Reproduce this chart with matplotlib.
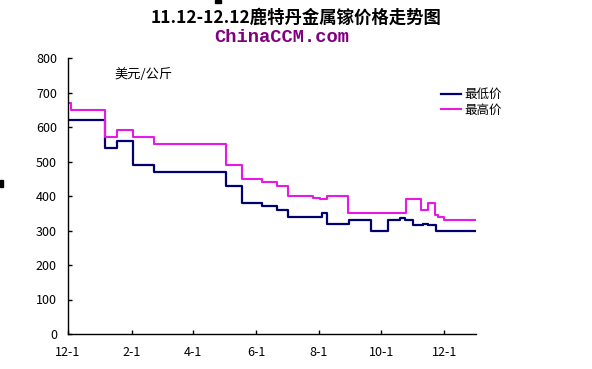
import pandas as pd
import matplotlib.pyplot as plt
from matplotlib.patches import Rectangle

plt.rcParams['font.family'] = ['Noto Sans CJK SC', 'DejaVu Sans']

TITLE = "11.12-12.12鹿特丹金属镓价格走势图"
SUBTITLE = "ChinaCCM.com"
UNIT = "美元/公斤"

# step change dates and prices (USD/kg)
low_dates = ["2011-12-01", "2012-01-06", "2012-01-18", "2012-02-02", "2012-02-23",
             "2012-05-03", "2012-05-18", "2012-06-07", "2012-06-21", "2012-07-02",
             "2012-08-04", "2012-08-09", "2012-08-30", "2012-09-21", "2012-10-07",
             "2012-10-19", "2012-10-24", "2012-11-01", "2012-11-10", "2012-11-15",
             "2012-11-23", "2013-01-01"]
low_vals = [620, 540, 560, 490, 470,
            430, 380, 370, 360, 340,
            350, 320, 330, 300, 330,
            335, 330, 315, 320, 315,
            300, 300]

high_dates = ["2011-12-01", "2011-12-04", "2012-01-06", "2012-01-18", "2012-02-02",
              "2012-02-23", "2012-05-03", "2012-05-18", "2012-06-07", "2012-06-21",
              "2012-07-02", "2012-07-26", "2012-08-02", "2012-08-09", "2012-08-29",
              "2012-10-25", "2012-11-08", "2012-11-15", "2012-11-22", "2012-11-25",
              "2012-12-01", "2013-01-01"]
high_vals = [670, 650, 570, 590, 570,
             550, 490, 450, 440, 430,
             400, 395, 390, 400, 350,
             390, 360, 380, 345, 340,
             330, 330]

tick_dates = ["2011-12-01", "2012-02-01", "2012-04-01", "2012-06-01",
              "2012-08-01", "2012-10-01", "2012-12-01"]
tick_labels = ["12-1", "2-1", "4-1", "6-1", "8-1", "10-1", "12-1"]


def plot_chart():
    fig = plt.figure(figsize=(5.92, 3.69), dpi=100)
    ax = fig.add_axes([68 / 592, 35 / 369, 408 / 592, 276 / 369])

    ld = pd.to_datetime(low_dates)
    hd = pd.to_datetime(high_dates)
    ax.plot(ld, low_vals, drawstyle='steps-post', color='#000070', lw=1.6, label='最低价')
    ax.plot(hd, high_vals, drawstyle='steps-post', color='#E619E6', lw=1.5, label='最高价')

    ax.set_xlim(pd.Timestamp("2011-12-01"), pd.Timestamp("2013-01-01"))
    ax.set_ylim(0, 800)
    ax.set_yticks(range(0, 801, 100))
    ax.set_xticks(pd.to_datetime(tick_dates))
    ax.set_xticklabels(tick_labels)

    for s in ['top', 'right']:
        ax.spines[s].set_visible(False)
    for s in ['left', 'bottom']:
        ax.spines[s].set_linewidth(1.0)
    ax.tick_params(direction='in', length=3, width=1, labelsize=9)
    ax.tick_params(axis='y', pad=8)
    ax.tick_params(axis='x', pad=9)

    ax.text(0.115, 0.94, UNIT, transform=ax.transAxes, fontsize=9.5, va='center')

    fig.legend(loc='upper left', bbox_to_anchor=(436 / 592, 1 - 83 / 369),
               frameon=False, fontsize=9, handlelength=1.6, handletextpad=0.3,
               labelspacing=0.2, borderaxespad=0)

    fig.text(0.5, 1 - 18 / 369, TITLE, ha='center', va='center', fontsize=12.5, fontweight='bold')
    fig.text(282 / 592, 1 - 38 / 369, SUBTITLE, ha='center', va='center', fontsize=13.5,
             fontweight='bold', color='#800080', family='Liberation Mono')

    # stray marks in the original image
    fig.add_artist(Rectangle((0, 1 - 187 / 369), 3 / 592, 7 / 369, transform=fig.transFigure, color='black'))
    fig.add_artist(Rectangle((215 / 592, 1 - 3 / 369), 6 / 592, 3 / 369, transform=fig.transFigure, color='black'))
    return fig


if __name__ == "__main__":
    fig = plot_chart()
    fig.savefig("out.png", dpi=100)
